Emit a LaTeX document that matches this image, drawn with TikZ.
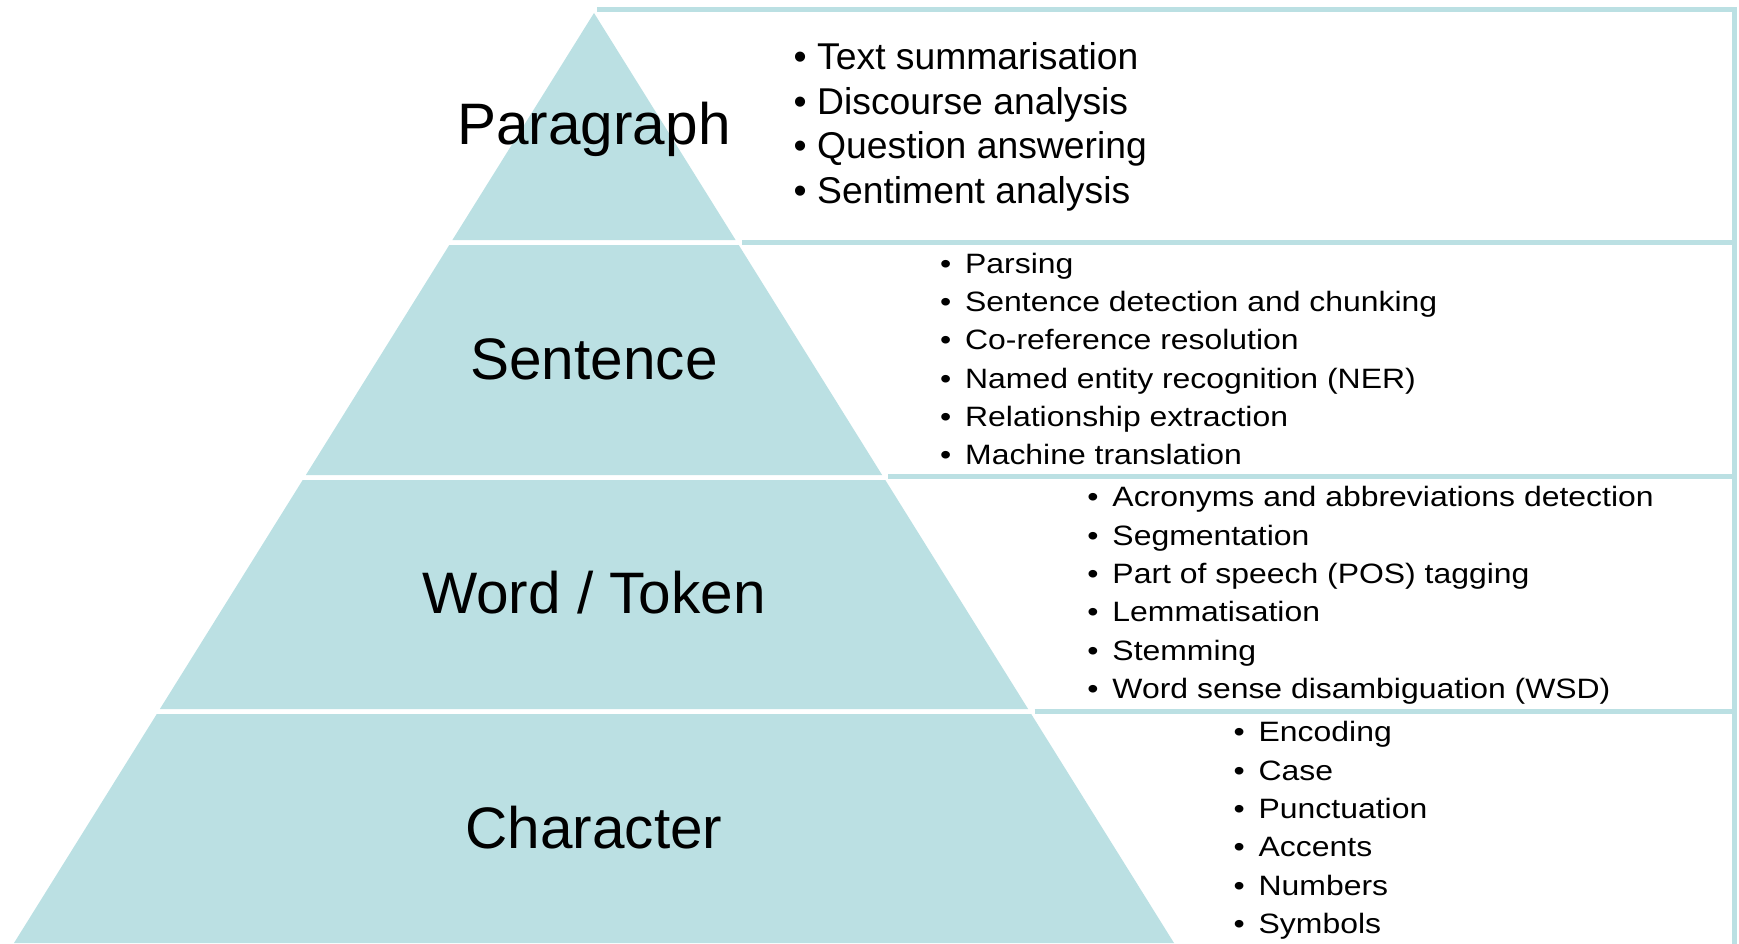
\documentclass[tikz,border=0pt]{standalone}
\usepackage{fontspec}
\setmainfont{Liberation Sans}
\newfontfamily\listfont[FakeStretch=1.14]{Liberation Sans}
\definecolor{pyr}{RGB}{187,224,227}
\begin{document}
\begin{tikzpicture}[x=1pt,y=-1pt,
  band/.style={fill=pyr,draw=none},
  boxline/.style={draw=pyr,line width=5pt},
  biglabel/.style={anchor=base,inner sep=0pt,font=\fontsize{58.5}{70}\selectfont},
  plist/.style={anchor=base west,inner sep=0pt,font=\fontsize{37.3}{44}\selectfont},
  slist/.style={anchor=base west,inner sep=0pt,font=\listfont\fontsize{28}{38}\selectfont}]
\useasboundingbox (0,0) rectangle (1739,944);
% right-hand boxes
\fill[white] (591.6,9.2) -- (1734.5,9.2) -- (1734.5,944) -- (1174,944) -- cycle;
\draw[boxline] (597,9.2) -- (1734.5,9.2) -- (1734.5,946);
\draw[boxline] (742,242.5) -- (1734.5,242.5);
\draw[boxline] (888.2,476.7) -- (1734.5,476.7);
\draw[boxline] (1034.5,711) -- (1734.5,711);
% pyramid bands
\fill[band] (594,13) -- (735.6,240) -- (452.4,240) -- cycle;
\fill[band] (449.3,245) -- (738.7,245) -- (882.1,475) -- (305.9,475) -- cycle;
\fill[band] (302.7,480) -- (885.3,480) -- (1028.1,709) -- (159.9,709) -- cycle;
\fill[band] (156.8,714) -- (1031.2,714) -- (1174,943) -- (14,943) -- cycle;
% level labels
\node[biglabel] (lp) at (594,145) {Paragraph};
\node[biglabel] (ls) at (594,379.5) {Sentence};
\node[biglabel] (lw) at (594,613.7) {Word / Token};
\node[biglabel] (lc) at (594,848.8) {Character};
% paragraph tasks
\foreach \t [count=\i] in {Text summarisation, Discourse analysis, Question answering, Sentiment analysis}
  \node[plist] (p\i) at (817,{70+44.5*(\i-1)}) {\llap{•\hspace{10.5pt}}\t};
% sentence tasks
\foreach \t [count=\i] in {Parsing, Sentence detection and chunking, Co-reference resolution, Named entity recognition (NER), Relationship extraction, Machine translation}
  \node[slist] (s\i) at (965,{273.3+38.33*(\i-1)}) {\llap{•\hspace{14pt}}\t};
% word tasks
\foreach \t [count=\i] in {Acronyms and abbreviations detection, Segmentation, Part of speech (POS) tagging, Lemmatisation, Stemming, Word sense disambiguation (WSD)}
  \node[slist] (w\i) at (1112.3,{506.7+38.33*(\i-1)}) {\llap{•\hspace{14pt}}\t};
% character tasks
\foreach \t [count=\i] in {Encoding, Case, Punctuation, Accents, Numbers, Symbols}
  \node[slist] (c\i) at (1258.5,{741.7+38.33*(\i-1)}) {\llap{•\hspace{14pt}}\t};
\end{tikzpicture}
\end{document}
